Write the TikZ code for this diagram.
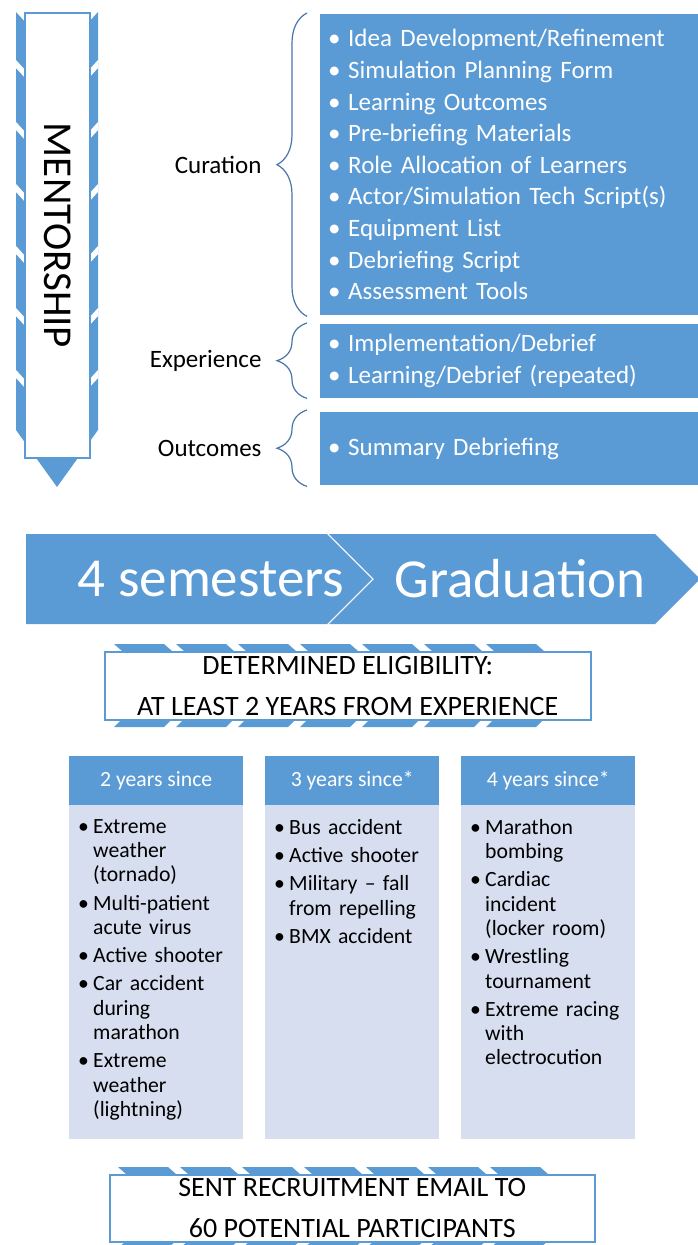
\documentclass[tikz,border=0pt]{standalone}
\usepackage{fontspec}
\setmainfont{Carlito}
\usetikzlibrary{decorations.pathreplacing}

\definecolor{accent}{RGB}{91,155,213}
\definecolor{pale}{RGB}{214,222,239}
\definecolor{bracecol}{RGB}{72,116,170}

\newcommand{\itm}[2][15pt]{\hangindent=#1\hangafter=1\noindent\makebox[#1][l]{\textbullet}#2\par}

\tikzset{
  listbox/.style={fill=accent,text=white,anchor=north west,minimum width=380pt,
    text width=364pt,inner xsep=8pt,inner ysep=0pt,align=left,
    font=\fontsize{25}{31.6}\selectfont},
  stagelabel/.style={anchor=east,font=\fontsize{25}{30}\selectfont},
  bracket/.style={draw=bracecol,line width=1.2pt,decorate,
    decoration={brace,amplitude=30pt}},
  whitebox/.style={draw=accent,line width=1.5pt,fill=white,align=center,
    font=\fontsize{28}{41}\selectfont},
  colhead/.style={fill=accent,text=white,anchor=north west,minimum width=174pt,
    minimum height=49pt,font=\fontsize{21.7}{26}\selectfont},
  colbody/.style={fill=pale,anchor=north west,minimum width=174pt,minimum height=334pt},
  itemlist/.style={anchor=north west,text width=160pt,inner sep=0pt,align=left,
    font=\fontsize{21.7}{24.3}\selectfont\setlength{\parskip}{4pt}},
  chevtext/.style={text=white,font=\fontsize{55}{60}\selectfont}
}

\begin{document}
\begin{tikzpicture}[x=1pt,y=-1pt]
\useasboundingbox (0,0) rectangle (697,1245);

% striped down arrow behind the mentorship box
\fill[accent] (16,12) -- (57,57) -- (98,12) -- (98,430) -- (57,487) -- (16,430) -- cycle;
\foreach \y in {60,122,...,370}
  \fill[white] (16,\y) -- (57,\y+45) -- (98,\y) -- (98,\y+8) -- (57,\y+53) -- (16,\y+8) -- cycle;
\node[whitebox,rotate=-90,minimum width=445pt,minimum height=65pt,
  font=\fontsize{41}{45}\selectfont] (ment) at (57.5,235.5) {MENTORSHIP};

% phases
\node[listbox,minimum height=301pt] (cur) at (320,14) {
  \itm[20pt]{Idea Development/Refinement}
  \itm[20pt]{Simulation Planning Form}
  \itm[20pt]{Learning Outcomes}
  \itm[20pt]{Pre-briefing Materials}
  \itm[20pt]{Role Allocation of Learners}
  \itm[20pt]{Actor/Simulation Tech Script(s)}
  \itm[20pt]{Equipment List}
  \itm[20pt]{Debriefing Script}
  \itm[20pt]{Assessment Tools}};
\node[listbox,minimum height=74pt] (exp) at (320,324) {
  \itm[20pt]{Implementation/Debrief}
  \itm[20pt]{Learning/Debrief (repeated)}};
\node[listbox,minimum height=73pt] (out) at (320,412) {
  \itm[20pt]{Summary Debriefing}};

\draw[bracket] ([xshift=-13pt,yshift=-1pt]cur.south west) -- ([xshift=-13pt,yshift=1pt]cur.north west);
\draw[bracket] ([xshift=-13pt]exp.south west) -- ([xshift=-13pt,yshift=1pt]exp.north west);
\draw[bracket] ([xshift=-13pt,yshift=-1pt]out.south west) -- ([xshift=-13pt,yshift=2pt]out.north west);
\node[stagelabel] (curlbl) at ([xshift=-55pt]cur.west) {Curation};
\node[stagelabel] (explbl) at ([xshift=-55pt]exp.west) {Experience};
\node[stagelabel] (outlbl) at ([xshift=-55pt]out.west) {Outcomes};

% timeline chevrons
\fill[accent] (26,534) -- (327,534) -- (372,579) -- (327,624) -- (26,624) -- cycle;
\fill[accent] (329,534) -- (655,534) -- (700,579) -- (655,624) -- (329,624) -- (374,579) -- cycle;
\node[chevtext] (sem) at (211,579) {4 semesters};
\node[chevtext] (grad) at (520,579) {Graduation};

% eligibility
\foreach \x in {114,176,...,486} {
  \fill[accent] (\x,644) -- (\x+50,644) -- (\x+58,651) -- (\x+8,651) -- cycle;
  \fill[accent] (\x+8,719) -- (\x+58,719) -- (\x+50,727) -- (\x,727) -- cycle;
}
\node[whitebox,anchor=north west,minimum width=486pt,minimum height=68pt] (elig) at (104,651)
  {DETERMINED ELIGIBILITY:\\AT LEAST 2 YEARS FROM EXPERIENCE};

% scenario columns
\node[colhead] (h2) at (69,756) {2 years since};
\node[colbody] (b2) at (69,805) {};
\node[itemlist] (l2) at ([shift={(9,14)}]b2.north west) {
  \itm{Extreme\newline weather\newline (tornado)}
  \itm{Multi-patient\newline acute virus}
  \itm{Active shooter}
  \itm{Car accident\newline during\newline marathon}
  \itm{Extreme\newline weather\newline (lightning)}};

\node[colhead] (h3) at (265,756) {3 years since*};
\node[colbody] (b3) at (265,805) {};
\node[itemlist] (l3) at ([shift={(9,14)}]b3.north west) {
  \itm{Bus accident}
  \itm{Active shooter}
  \itm{Military -- fall\newline from repelling}
  \itm{BMX accident}};

\node[colhead] (h4) at (461,756) {4 years since*};
\node[colbody] (b4) at (461,805) {};
\node[itemlist] (l4) at ([shift={(9,14)}]b4.north west) {
  \itm{Marathon\newline bombing}
  \itm{Cardiac\newline incident\newline (locker room)}
  \itm{Wrestling\newline tournament}
  \itm{Extreme racing\newline with\newline electrocution}};

% recruitment
\foreach \x in {118,180,...,490} {
  \fill[accent] (\x,1167) -- (\x+50,1167) -- (\x+58,1174) -- (\x+8,1174) -- cycle;
  \fill[accent] (\x+8,1241) -- (\x+58,1241) -- (\x+50,1248) -- (\x,1248) -- cycle;
}
\node[whitebox,anchor=north west,minimum width=485pt,minimum height=67pt] (recr) at (109,1174)
  {SENT RECRUITMENT EMAIL TO\\60 POTENTIAL PARTICIPANTS};
\end{tikzpicture}
\end{document}
